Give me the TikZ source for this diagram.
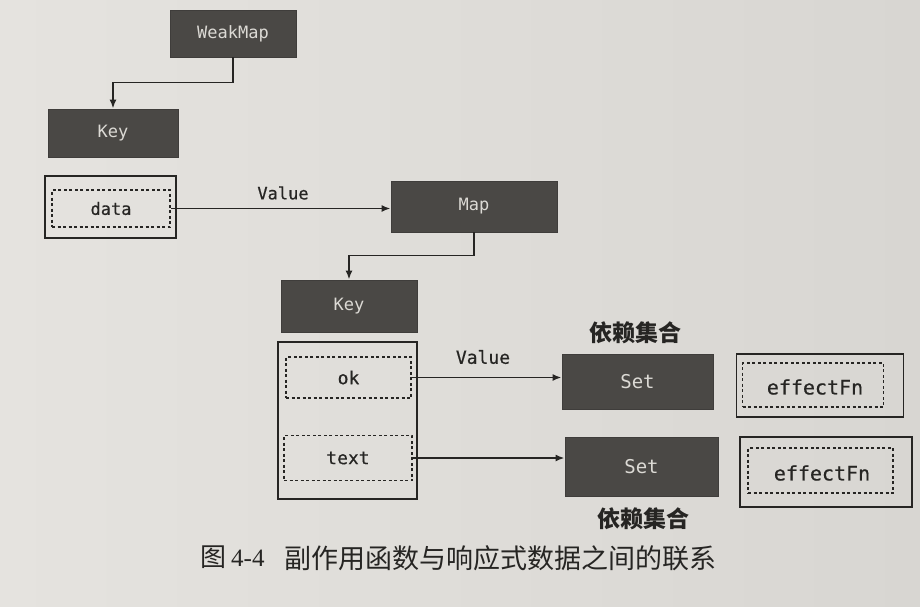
\documentclass[tikz,border=0pt]{standalone}
\usepackage{fontspec}
\setmonofont{DejaVu Sans Mono}
\newfontfamily\inkmono[FakeBold=0.5]{DejaVu Sans Mono}
\newfontfamily\cjk{Noto Sans CJK SC}
\newfontfamily\numfont{Liberation Serif}
\usetikzlibrary{arrows.meta}
\definecolor{paper}{HTML}{E5E3DF}
\definecolor{paperdark}{HTML}{D8D6D2}
\definecolor{boxfill}{HTML}{4A4845}
\definecolor{boxtext}{HTML}{DCDAD5}
\definecolor{ink}{HTML}{262523}
\tikzset{
  mono/.style={font=\ttfamily\fontsize{#1}{#1}\selectfont},
  inkfont/.style={font=\inkmono\fontsize{#1}{#1}\selectfont},
  darkbox/.style={fill=boxfill, draw=boxfill!85!black, line width=0.8pt,
    text=boxtext, inner sep=0pt, mono=17},
  framebox/.style={draw=ink, line width=1.8pt, inner sep=0pt},
  dashbox/.style={draw=ink, line width=1.8pt, dash pattern=on 3pt off 2.5pt,
    inner sep=0pt, text=ink, inkfont=17},
  link/.style={draw=ink, line width=1.8pt, -{Latex[length=9pt,width=7pt]}},
  lbl/.style={text=ink, inner sep=0pt, inkfont=17},
  grp/.style={text=ink, inner sep=0pt, font=\cjk\bfseries\fontsize{23}{23}\selectfont},
  captiontext/.style={text=ink, inner sep=0pt, anchor=west}
}
\begin{document}
\begin{tikzpicture}[x=1pt,y=-1pt]
  % page
  \shade[left color=paper, right color=paperdark] (0,0) rectangle (920,606);
  \useasboundingbox (0,0) rectangle (920,606);

  % WeakMap -> Key -> data
  \node[darkbox, minimum width=126pt, minimum height=47pt] (wm) at (233,33.5) {WeakMap};
  \node[darkbox, minimum width=130pt, minimum height=48pt] (key1) at (113,133) {Key};
  \node[framebox, minimum width=131pt, minimum height=62pt] (dataout) at (110.5,207) {};
  \node[dashbox, minimum width=118pt, minimum height=37pt] (datain) at (111,208.5) {data};

  % Map and its keys
  \node[darkbox, minimum width=166pt, minimum height=51pt] (map) at (474,206.5) {Map};
  \node[darkbox, minimum width=136pt, minimum height=52pt] (key2) at (349,306) {Key};
  \node[framebox, minimum width=139pt, minimum height=157pt] (keyout) at (347.5,420.5) {};
  \node[dashbox, minimum width=125pt, minimum height=41pt, inkfont=18] (okin) at (348.5,377.5) {ok};
  \node[dashbox, minimum width=128pt, minimum height=45pt, inkfont=18] (textin) at (348,458) {text};

  % dependency sets
  \node[darkbox, minimum width=151pt, minimum height=55pt, mono=19] (set1) at (637.5,381.5) {Set};
  \node[darkbox, minimum width=153pt, minimum height=59pt, mono=19] (set2) at (641.5,466.5) {Set};
  \node[grp] (grp1) at (635,333) {依赖集合};
  \node[grp] (grp2) at (643,519) {依赖集合};

  % effect functions
  \node[framebox, minimum width=167pt, minimum height=63pt] (eff1out) at (820,385.5) {};
  \node[dashbox, minimum width=141pt, minimum height=44pt] (eff1in) at (813,385) {};
  \node[lbl, inkfont=20] (eff1) at (815,387) {effectFn};
  \node[framebox, minimum width=172pt, minimum height=70pt] (eff2out) at (826,472) {};
  \node[dashbox, minimum width=145pt, minimum height=45pt] (eff2in) at (820.5,470.5) {};
  \node[lbl, inkfont=20] (eff2) at (822,473) {effectFn};

  % connectors
  \draw[link] (wm.south) -- ++(0,25) -| (key1.north);
  \draw[link] (datain.east) -- (datain.east -| map.west);
  \draw[link] (map.south) -- ++(0,23) -| (key2.north);
  \draw[link] (okin.east) -- (okin.east -| set1.west);
  \draw[link] (textin.east) -- (textin.east -| set2.west);

  \node[lbl] (val1) at (283,193) {Value};
  \node[lbl, inkfont=18] (val2) at (483,357) {Value};

  % caption
  \node[captiontext] (capnum) at (200,557) {{\cjk\fontsize{26}{26}\selectfont 图}\hspace{5pt}{\numfont\fontsize{25}{25}\selectfont 4-4}};
  \node[captiontext, font=\cjk\fontsize{27}{27}\selectfont] (captext) at (284,558) {副作用函数与响应式数据之间的联系};
\end{tikzpicture}
\end{document}
